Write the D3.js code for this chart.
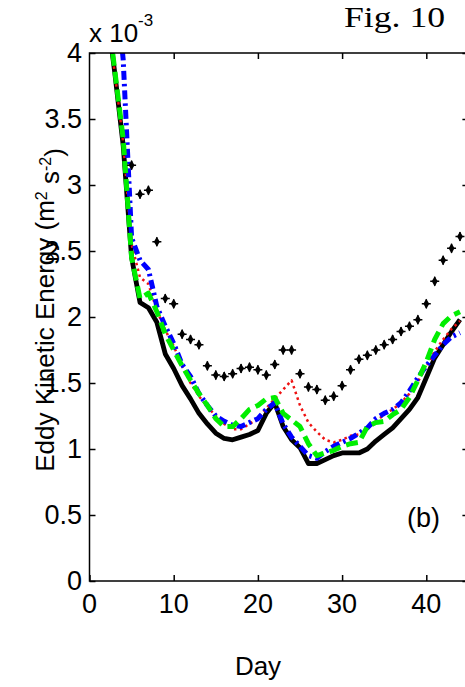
<!DOCTYPE html>
<html><head><meta charset="utf-8">
<script src="https://cdn.jsdelivr.net/npm/d3@7"></script>
<style>html,body{margin:0;padding:0;background:#fff;} svg{display:block;}</style>
</head><body>
<svg id="c" width="465" height="687"></svg>
<script>
// ---- data (EKE in units of 1e-3 m^2 s^-2) ----
const days = [2,3,4,5,6,7,8,9,10,11,12,13,14,15,16,17,18,19,20,21,22,23,24,25,26,27,28,29,30,31,32,33,34,35,36,37,38,39,40,41,42,43,44];
const blackVals = [4.35,3.85,3.30,2.45,2.11,2.07,1.96,1.72,1.61,1.48,1.38,1.27,1.19,1.12,1.08,1.07,1.09,1.11,1.14,1.27,1.35,1.17,1.07,1.01,0.89,0.89,0.92,0.95,0.97,0.97,0.97,1.00,1.06,1.11,1.16,1.23,1.30,1.39,1.54,1.69,1.79,1.89,1.98];
const redVals = [4.35,3.85,3.32,2.55,2.30,2.25,2.05,1.90,1.78,1.63,1.50,1.40,1.32,1.25,1.19,1.15,1.15,1.19,1.23,1.31,1.38,1.45,1.52,1.33,1.20,1.13,1.07,1.05,1.07,1.10,1.11,1.15,1.21,1.26,1.30,1.35,1.42,1.51,1.62,1.74,1.83,1.91,1.97];
const greenVals = [4.40,3.87,3.35,2.45,2.14,2.18,2.04,1.87,1.75,1.63,1.52,1.42,1.33,1.23,1.17,1.17,1.23,1.30,1.33,1.38,1.39,1.27,1.22,1.17,1.04,0.95,0.97,0.99,1.02,1.04,1.05,1.17,1.20,1.21,1.26,1.30,1.39,1.52,1.66,1.83,1.95,2.01,2.04];
const blueDays = [3,4,5,6,7,8,9,10,11,12,13,14,15,16,17,18,19,20,21,22,23,24,25,26,27,28,29,30,31,32,33,34,35,36,37,38,39,40,41,42,43,44];
const blueVals = [4.60,3.95,2.60,2.43,2.36,2.08,1.93,1.80,1.64,1.55,1.42,1.33,1.25,1.21,1.18,1.17,1.20,1.23,1.30,1.35,1.19,1.09,1.02,0.95,0.93,0.98,1.02,1.05,1.08,1.12,1.16,1.23,1.27,1.30,1.35,1.44,1.54,1.63,1.71,1.79,1.85,1.88];
const markerDays = [5,6,7,8,9,10,11,12,13,14,15,16,17,18,19,20,21,22,23,24,25,26,27,28,29,30,31,32,33,34,35,36,37,38,39,40,41,42,43,44];
const markerVals = [3.15,2.93,2.96,2.57,2.14,2.10,1.87,1.83,1.79,1.63,1.56,1.55,1.57,1.61,1.62,1.60,1.56,1.64,1.75,1.75,1.57,1.47,1.45,1.37,1.40,1.48,1.60,1.68,1.71,1.75,1.79,1.83,1.89,1.93,1.98,2.10,2.27,2.43,2.52,2.61];
const xTicks = [0,10,20,30,40];
const xTickLabels = ["0","10","20","30","40"];
const yTicks = [0,0.5,1,1.5,2,2.5,3,3.5,4];
const yTickLabels = ["0","0.5","1","1.5","2","2.5","3","3.5","4"];

// ---- layout ----
const svg = d3.select('#c');
const x = d3.scaleLinear().domain([0,45]).range([89.5,468.4]);
const y = d3.scaleLinear().domain([0,4]).range([581,53]);
const FONT = "'Liberation Sans', Arial, sans-serif";

svg.append('defs').append('clipPath').attr('id','clip')
  .append('rect').attr('x',x(0)).attr('y',y(4))
  .attr('width',x(45)-x(0)).attr('height',y(0)-y(4));

const plot = svg.append('g').attr('clip-path','url(#clip)');
const line = d3.line().x(d=>x(d[0])).y(d=>y(d[1]));

const series = [
  {d: d3.zip(days, blackVals), color:'#000000', w:4.8, dash:null},
  {d: d3.zip(days, redVals), color:'#ee1111', w:2.5, dash:'2.5,3.5'},
  {d: d3.zip(blueDays, blueVals), color:'#0000ff', w:5, dash:'9,4,2.5,4'},
  {d: d3.zip(days, greenVals), color:'#00ee00', w:5, dash:'12,6'}
];
series.forEach(s=>{
  plot.append('path').datum(s.d).attr('d',line)
    .attr('fill','none').attr('stroke',s.color).attr('stroke-width',s.w)
    .attr('stroke-dasharray',s.dash).attr('stroke-linejoin','round');
});

const mk = plot.selectAll('g.mk').data(d3.zip(markerDays, markerVals)).enter().append('g')
  .attr('transform',d=>`translate(${x(d[0])},${y(d[1])})`);
mk.append('path').attr('d',d3.symbol(d3.symbolDiamond).size(30)).attr('fill','#000');
mk.append('path').attr('d','M-4.5,0H4.5M0,-4.5V4.5').attr('stroke','#000').attr('stroke-width',1.5);

// ---- axes (ticks inward on all sides) ----
const axStyle = g => { g.select('.domain').remove(); g.selectAll('line').attr('stroke','#000').attr('stroke-width',1.5); };
svg.append('g').attr('transform',`translate(0,${y(0)})`)
  .call(d3.axisBottom(x).tickValues(xTicks).tickSize(-6).tickFormat('')).call(axStyle);
svg.append('g').attr('transform',`translate(0,${y(4)})`)
  .call(d3.axisTop(x).tickValues(xTicks.slice(1)).tickSize(-6).tickFormat('')).call(axStyle);
svg.append('g').attr('transform',`translate(${x(0)},0)`)
  .call(d3.axisLeft(y).tickValues(yTicks).tickSize(-6).tickFormat('')).call(axStyle);
svg.append('g').attr('transform',`translate(${x(45)},0)`)
  .call(d3.axisRight(y).tickValues(yTicks).tickSize(-6).tickFormat('')).call(axStyle);
svg.append('rect').attr('x',x(0)).attr('y',y(4)).attr('width',x(45)-x(0)).attr('height',y(0)-y(4))
  .attr('fill','none').attr('stroke','#000').attr('stroke-width',1.5);

// tick labels
svg.selectAll('text.xt').data(xTicks).enter().append('text')
  .attr('x',d=>x(d)).attr('y',613).attr('text-anchor','middle')
  .style('font-family',FONT).style('font-size','27px').text((d,i)=>xTickLabels[i]);
svg.selectAll('text.yt').data(yTicks).enter().append('text')
  .attr('x',82).attr('y',d=>y(d)+9).attr('text-anchor','end')
  .style('font-family',FONT).style('font-size','27px').text((d,i)=>yTickLabels[i]);

// exponent
svg.append('text').attr('x',89).attr('y',42).style('font-family',FONT).style('font-size','26px').text('x 10');
svg.append('text').attr('x',138).attr('y',26).style('font-family',FONT).style('font-size','17px').text('-3');

// axis labels
svg.append('text').attr('x',258).attr('y',675).attr('text-anchor','middle')
  .style('font-family',FONT).style('font-size','26px').text('Day');
const yl = svg.append('text').attr('transform','translate(54,310) rotate(-90)').attr('text-anchor','middle')
  .style('font-family',FONT).style('font-size','26px');
yl.append('tspan').text('Eddy Kinetic Energy (m');
yl.append('tspan').attr('dy','-0.45em').style('font-size','16px').text('2');
yl.append('tspan').attr('dy','0.45em').text(' s');
yl.append('tspan').attr('dy','-0.45em').style('font-size','16px').text('-2');
yl.append('tspan').attr('dy','0.45em').text(')');

// panel label and figure title
svg.append('text').attr('x',407).attr('y',527).style('font-family',FONT).style('font-size','27px').text('(b)');
svg.append('text').attr('transform','translate(344,27) scale(1.19,1)')
  .style('font-family',"'Liberation Serif', 'Times New Roman', serif").style('font-size','30px').text('Fig. 10');
</script>
</body></html>
